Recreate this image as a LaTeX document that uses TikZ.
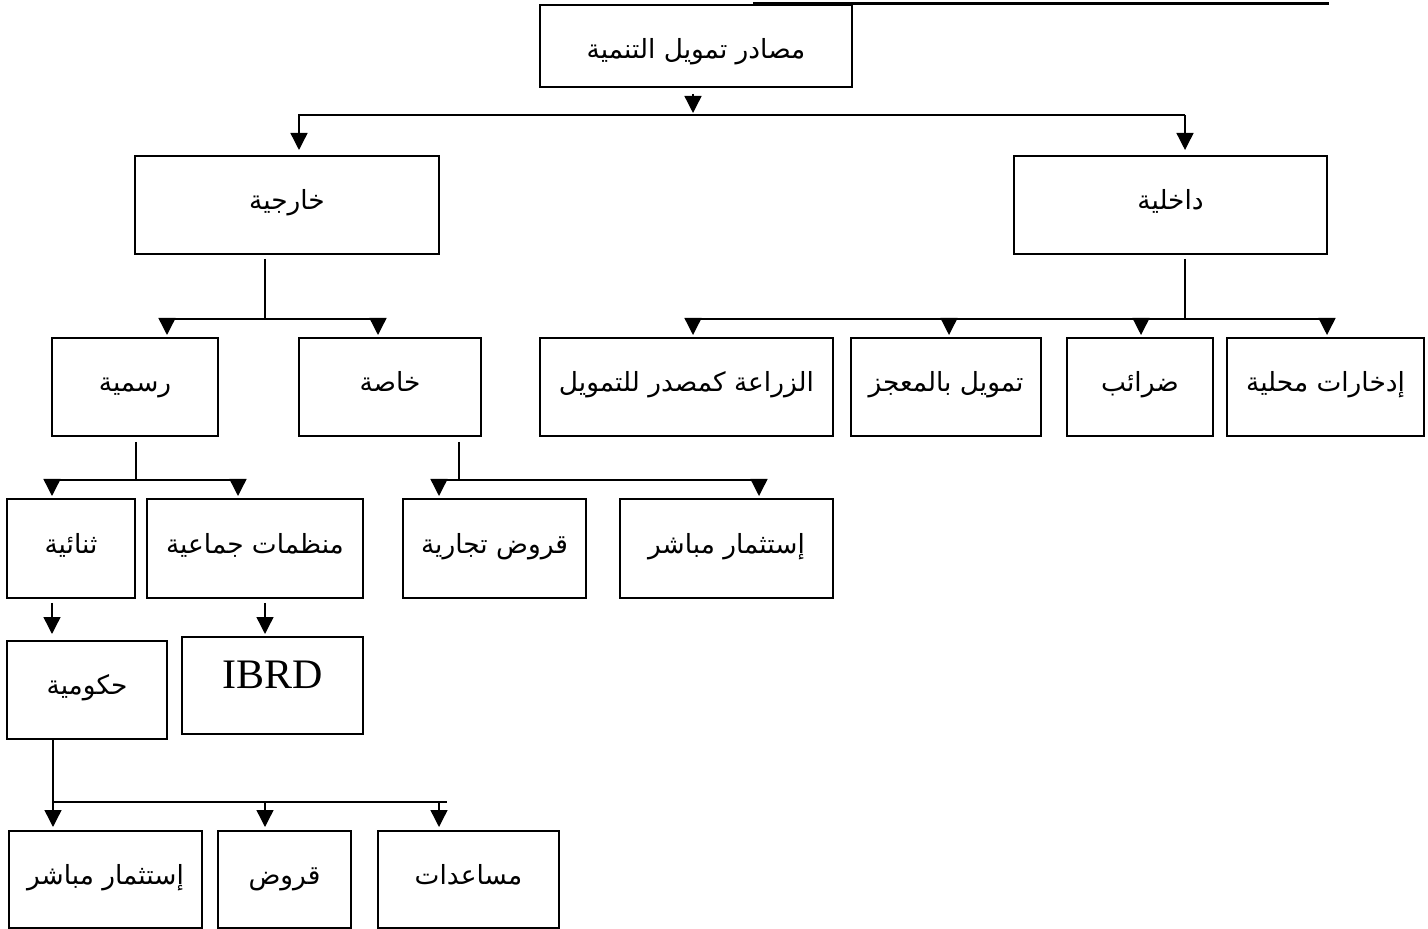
\documentclass[tikz,border=0pt]{standalone}
\usepackage{fontspec}
\setmainfont{Liberation Serif}
\newfontfamily\arabicfont[Script=Arabic]{DejaVu Sans}
\TeXXeTstate=1
\usetikzlibrary{arrows.meta,calc}
% Arabic text, set right to left
\newcommand\artext[1]{{\arabicfont\beginR #1\endR}}

\begin{document}
\begin{tikzpicture}[x=0.5pt,y=-0.5pt,
  box/.style 2 args={draw, line width=1pt, minimum width=#1*0.5pt,
    minimum height=#2*0.5pt, inner sep=0pt, text height=11pt, text depth=6.3pt,
    font=\fontsize{13.2}{15}\selectfont},
  link/.style={line width=0.7pt},
  arr/.style={line width=0.7pt, -{Triangle[width=8.5pt,length=8.5pt]}, shorten >=1pt},
]
\useasboundingbox (0,0) rectangle (1428,929);

% heading rule
\coordinate (ruleL) at (753,3.5);
\coordinate (ruleR) at (1329,3.5);
\draw[line width=1.8pt] (ruleL) -- (ruleR);

% boxes
\node[box={312}{82}, text height=15pt, text depth=2.3pt] (top) at (696,46) {\artext{مصادر تمويل التنمية}};
\node[box={304}{98}]  (khar)  at (287,205)    {\artext{خارجية}};
\node[box={313}{98}]  (dakh)  at (1170.5,205) {\artext{داخلية}};
\node[box={166}{98}]  (rasm)  at (135,387)    {\artext{رسمية}};
\node[box={182}{98}]  (khas)  at (390,387)    {\artext{خاصة}};
\node[box={293}{98}]  (zira)  at (686.5,387)  {\artext{الزراعة كمصدر للتمويل}};
\node[box={190}{98}]  (muajz) at (946,387)    {\artext{تمويل بالمعجز}};
\node[box={146}{98}]  (darab) at (1140,387)   {\artext{ضرائب}};
\node[box={197}{98}]  (idkh)  at (1325.5,387) {\artext{إدخارات محلية}};
\node[box={128}{99}]  (thun)  at (71,548.5)   {\artext{ثنائية}};
\node[box={216}{99}]  (mun)   at (255,548.5)  {\artext{منظمات جماعية}};
\node[box={183}{99}]  (qurt)  at (494.5,548.5){\artext{قروض تجارية}};
\node[box={213}{99}]  (istA)  at (726.5,548.5){\artext{إستثمار مباشر}};
\node[box={160}{98}]  (huk)   at (87,690)     {\artext{حكومية}};
\node[box={181}{97}, font=\fontsize{21}{24}\selectfont, text height=10pt, text depth=7.5pt] (ibrd) at (272.5,685.5) {IBRD};
\node[box={193}{97}]  (istB)  at (105.5,879.5){\artext{إستثمار مباشر}};
\node[box={133}{97}]  (qurud) at (284.5,879.5){\artext{قروض}};
\node[box={181}{97}]  (musa)  at (468.5,879.5){\artext{مساعدات}};

% level 1
\coordinate (j0) at (693,115);
\coordinate (j0l) at (299,115);
\coordinate (j0r) at (1185,115);
\draw[arr] ($(top.south -| j0)+(0,6)$) -- (j0);
\draw[arr] (j0r) -- (j0l) -- ($(j0l |- khar.north)+(0,-3)$);
\draw[arr] (j0r) -- ($(j0r |- dakh.north)+(0,-3)$);

% external branch
\coordinate (k1) at (265,319);
\coordinate (k1l) at (167,319);
\coordinate (k1r) at (378,319);
\draw[link] ($(khar.south -| k1)+(0,4)$) -- (k1);
\draw[arr] (k1r) -- (k1l) -- (k1l |- rasm.north);
\draw[arr] (k1r) -- (k1r |- khas.north);

% internal branch
\coordinate (d1) at (1185,319);
\coordinate (d1a) at (693,319);
\coordinate (d1b) at (949,319);
\coordinate (d1c) at (1141,319);
\coordinate (d1d) at (1327,319);
\draw[link] ($(dakh.south -| d1)+(0,4)$) -- (d1);
\draw[arr] (d1d) -- (d1a) -- (d1a |- zira.north);
\draw[arr] (d1b) -- (d1b |- muajz.north);
\draw[arr] (d1c) -- (d1c |- darab.north);
\draw[arr] (d1d) -- (d1d |- idkh.north);

% official
\coordinate (r1) at (136,480);
\coordinate (r1l) at (52,480);
\coordinate (r1r) at (238,480);
\draw[link] ($(rasm.south -| r1)+(0,5)$) -- (r1);
\draw[arr] (r1r) -- (r1l) -- (r1l |- thun.north);
\draw[arr] (r1r) -- (r1r |- mun.north);

% private
\coordinate (p1) at (459,480);
\coordinate (p1l) at (439,480);
\coordinate (p1r) at (759,480);
\draw[link] ($(khas.south -| p1)+(0,5)$) -- (p1);
\draw[arr] (p1r) -- (p1l) -- (p1l |- qurt.north);
\draw[arr] (p1r) -- (p1r |- istA.north);

% bilateral and multilateral
\coordinate (t1) at (52,0);
\coordinate (m1) at (265,0);
\draw[arr, shorten >=3pt] ($(thun.south -| t1)+(0,4)$) -- (t1 |- huk.north);
\draw[arr] ($(mun.south -| m1)+(0,4)$) -- (m1 |- ibrd.north);

% governmental
\coordinate (g1) at (53,802);
\coordinate (g1m) at (265,802);
\coordinate (g1r) at (439,802);
\coordinate (g1e) at (447,802);
\draw[link] (g1) -- (g1e);
\draw[arr] (huk.south -| g1) -- ($(g1 |- istB.north)+(0,-1)$);
\draw[arr] (g1m) -- ($(g1m |- qurud.north)+(0,-1)$);
\draw[arr] (g1r) -- ($(g1r |- musa.north)+(0,-1)$);
\end{tikzpicture}
\end{document}
